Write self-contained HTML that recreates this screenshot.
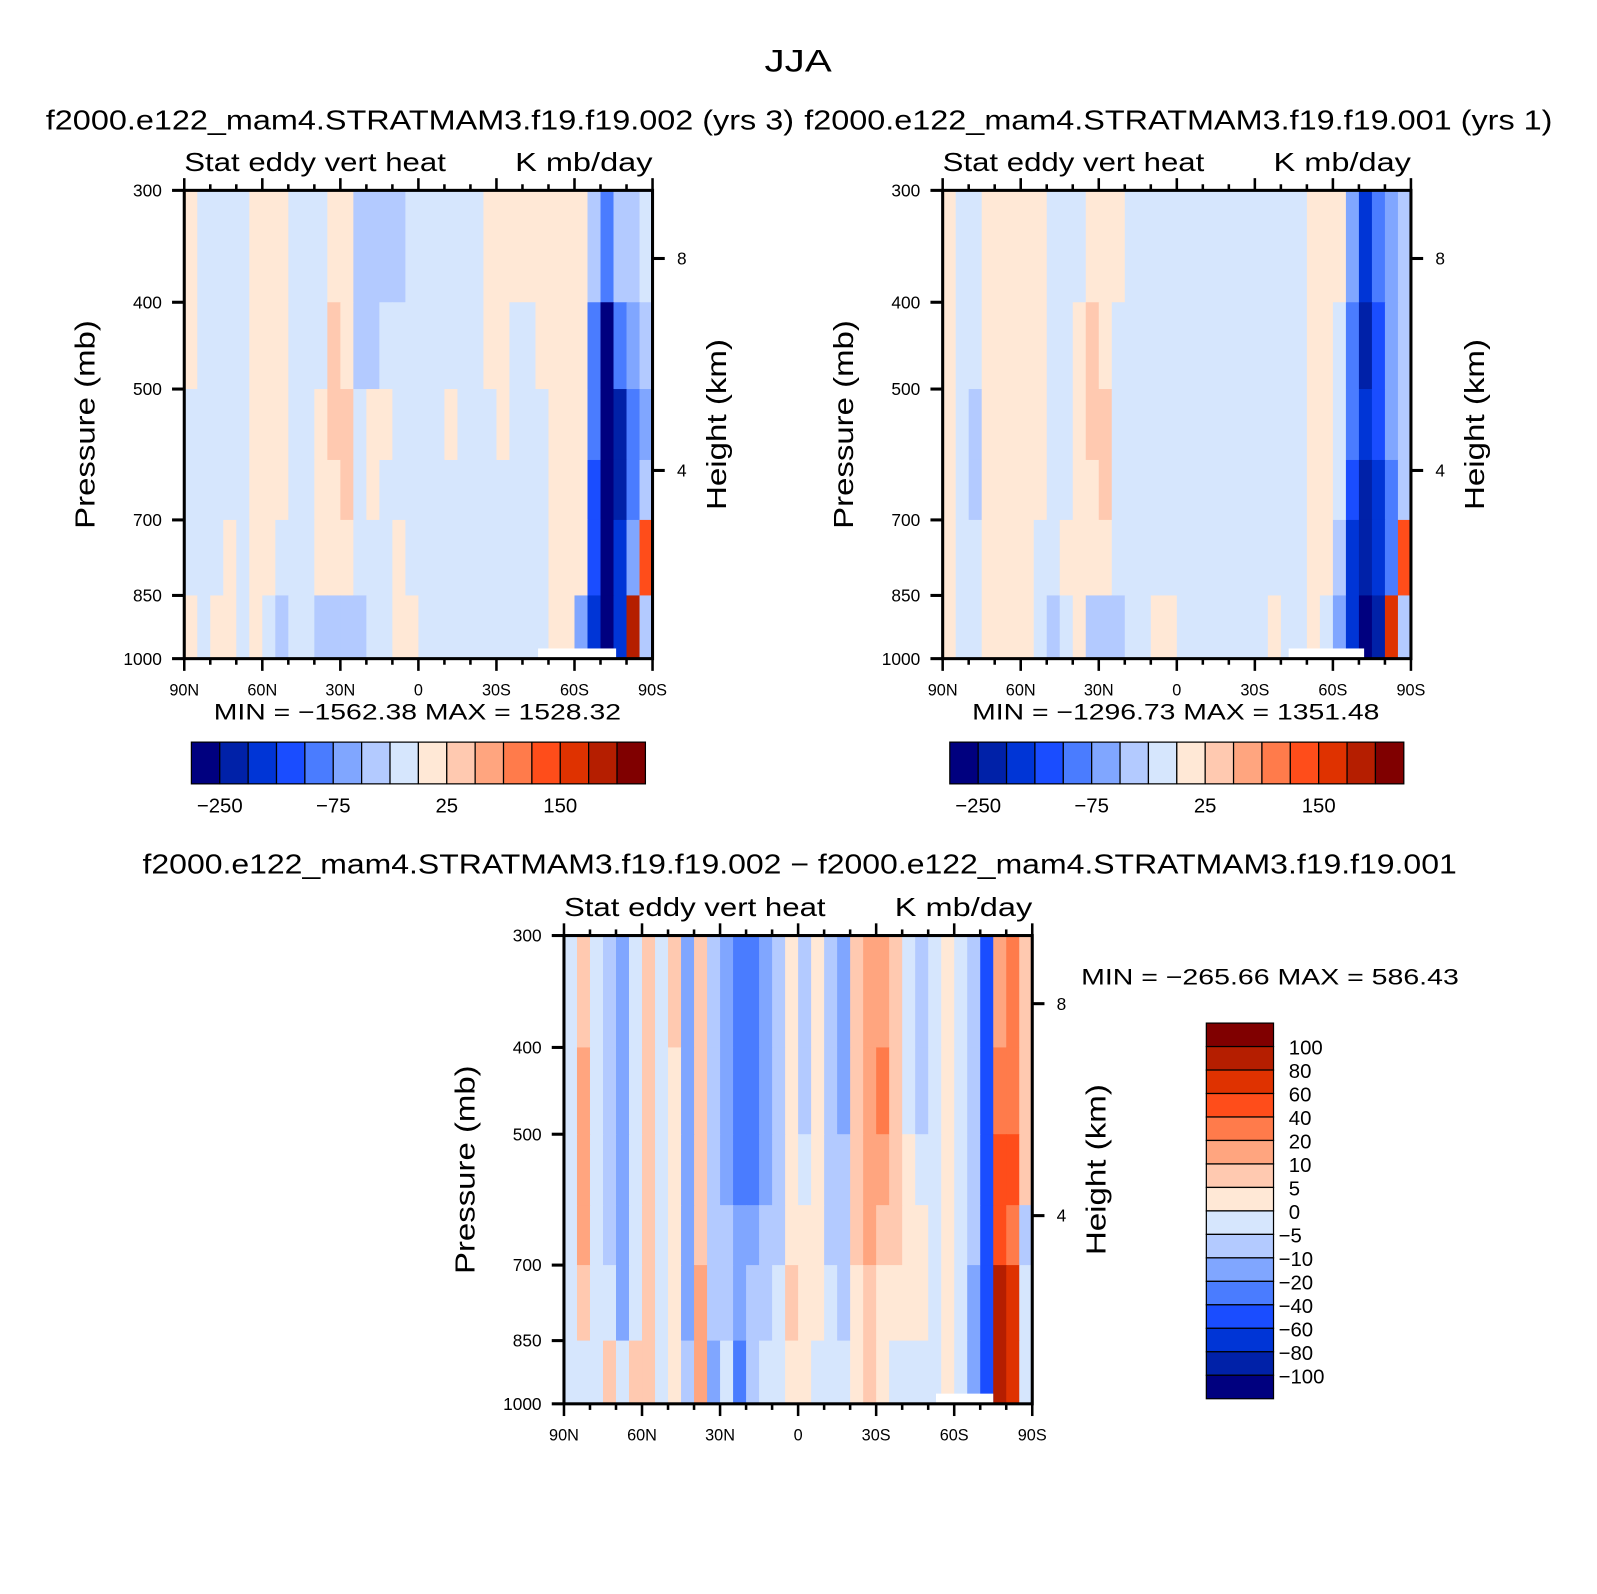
<!DOCTYPE html>
<html><head><meta charset="utf-8"><style>
html,body{margin:0;padding:0;background:#fff;overflow:hidden;}
svg{display:block;font-family:"Liberation Sans",sans-serif;}
</style></head><body>
<svg width="1597" height="1594" viewBox="0 0 1597 1594" xmlns="http://www.w3.org/2000/svg"><g id="chart" transform="scale(1.018)"></g></svg>
<script>
// ---------- data ----------
const latEdges = [90,85,80,75,70,65,60,55,50,45,40,35,30,25,20,15,10,5,0,-5,-10,-15,-20,-25,-30,-35,-40,-45,-50,-55,-60,-65,-70,-75,-80,-85,-90];
const presEdges = [300,400,500,600,700,850,1000];
const levelsAbs = [-250,-200,-150,-100,-75,-50,-25,0,25,50,75,100,150,200,250];
const levelsDiff = [-100,-80,-60,-40,-20,-10,-5,0,5,10,20,40,60,80,100];
const palette = ["#00007f","#0021a8","#0035d6","#1a4dff","#4a7cff","#80a6ff","#b3caff","#d6e6fd","#ffe8d6","#ffc9b0","#ffa57f","#ff7b4b","#ff4d1a","#df3200","#b51e00","#800000"];
const p1 = [
 [10,-10,-10,-10,-10,10,10,10,-10,-10,-10,10,10,-35,-35,-35,-35,-10,-10,-10,-10,-10,-10,10,10,10,10,10,10,10,10,-35,-100,-35,-35,-10],
 [10,-10,-10,-10,-10,10,10,10,-10,-10,-10,35,10,-35,-35,-10,-10,-10,-10,-10,-10,-10,-10,10,10,-10,-10,10,10,10,10,-100,-300,-100,-60,-35],
 [-10,-10,-10,-10,-10,10,10,10,-10,-10,10,35,35,-10,10,10,-10,-10,-10,-10,10,-10,-10,-10,10,-10,-10,-10,10,10,10,-100,-300,-250,-100,-60],
 [-10,-10,-10,-10,-10,10,10,10,-10,-10,10,10,35,-10,10,-10,-10,-10,-10,-10,-10,-10,-10,-10,-10,-10,-10,-10,10,10,10,-150,-300,-250,-80,-35],
 [-10,-10,-10,10,-10,10,10,-10,-10,-10,10,10,10,-10,-10,-10,10,-10,-10,-10,-10,-10,-10,-10,-10,-10,-10,-10,10,10,10,-150,-300,-200,-60,100],
 [10,-10,10,10,-10,10,-10,-35,-10,-10,-35,-35,-35,-35,-10,-10,10,10,-10,-10,-10,-10,-10,-10,-10,-10,-10,-10,10,10,-75,-200,-300,-200,200,-35]
];
const p2 = [
 [10,-10,-10,10,10,10,10,10,-10,-10,-10,10,10,10,-10,-10,-10,-10,-10,-10,-10,-10,-10,-10,-10,-10,-10,-10,10,10,10,-75,-200,-100,-60,-35],
 [10,-10,-10,10,10,10,10,10,-10,-10,10,35,10,-10,-10,-10,-10,-10,-10,-10,-10,-10,-10,-10,-10,-10,-10,-10,10,10,-10,-100,-250,-150,-75,-35],
 [10,-10,-35,10,10,10,10,10,-10,-10,10,35,35,-10,-10,-10,-10,-10,-10,-10,-10,-10,-10,-10,-10,-10,-10,-10,10,10,-10,-100,-200,-150,-60,-35],
 [10,-10,-35,10,10,10,10,10,-10,-10,10,10,35,-10,-10,-10,-10,-10,-10,-10,-10,-10,-10,-10,-10,-10,-10,-10,10,10,-10,-150,-250,-200,-100,-35],
 [10,-10,-10,10,10,10,10,-10,-10,10,10,10,10,-10,-10,-10,-10,-10,-10,-10,-10,-10,-10,-10,-10,-10,-10,-10,10,10,-35,-200,-250,-200,-100,100],
 [10,-10,-10,10,10,10,10,-10,-35,-10,10,-35,-35,-35,-10,-10,10,10,-10,-10,-10,-10,-10,-10,-10,10,-10,-10,10,-10,-75,-200,-300,-250,150,-35]
];
const p3 = [
 [-3,7,-3,-7,-15,-3,7,-3,7,-15,7,-7,-15,-30,-30,-15,-7,3,-7,3,-7,-15,7,15,15,7,-3,-7,-3,3,-3,-7,-60,15,20,5],
 [-3,15,-3,-7,-15,-3,7,-3,3,-15,7,-7,-15,-30,-40,-15,-7,3,-7,3,-7,-15,7,15,20,7,-3,-7,-3,3,-3,-7,-60,30,30,5],
 [-3,15,-3,-7,-15,-3,7,-3,3,-15,7,-7,-15,-30,-30,-15,-7,3,-3,3,-7,-7,7,15,15,7,3,-3,-3,3,-3,-7,-60,40,40,5],
 [-3,15,-3,-7,-15,-3,7,-3,3,-15,7,-7,-7,-15,-20,-7,-7,3,3,3,-7,-7,7,15,7,7,3,3,-3,3,-3,-7,-60,40,30,-7],
 [-3,7,-3,-3,-15,-3,7,-3,3,-15,15,-7,-7,-15,-7,-7,-3,7,3,3,-3,-7,3,7,3,3,3,3,-3,3,-3,-15,-60,80,60,-3],
 [-3,-3,-3,7,-3,7,7,-3,3,-7,15,-15,-3,-30,-7,-3,-3,3,3,-3,-3,-3,3,7,3,-3,-3,-3,-3,3,-3,-20,-60,90,60,-3]
];
const presTicks = [300,400,500,700,850,1000];
const latTicks = [90,60,30,0,-30,-60,-90];
const latTickLabels = ["90N","60N","30N","0","30S","60S","90S"];
const heightTicks = [8,4];
const absBarLabels = ["−250","−75","25","150"];
const absBarLabelIdx = [0,4,8,12];
const diffBarLabels = ["100","80","60","40","20","10","5","0","−5","−10","−20","−40","−60","−80","−100"];

// ---------- drawing ----------
const NS="http://www.w3.org/2000/svg";
const svg=document.getElementById('chart');
function el(tag,attrs,parent){const e=document.createElementNS(NS,tag);for(const k in attrs)e.setAttribute(k,attrs[k]);(parent||svg).appendChild(e);return e;}
function txt(s,attrs,parent){const t=el('text',attrs,parent);t.textContent=s;return t;}
function colorFor(v,levels){let i=0;while(i<levels.length&&v>=levels[i])i++;return palette[i];}

function panel(cfg){
  const {x0,y0,w,h,data,levels,name,below}=cfg;
  const g=el('g',{});
  
  
  const xS=lat=>x0+(90-lat)/180*w;
  const yS=p=>y0+(Math.log(p)-Math.log(300))/(Math.log(1000)-Math.log(300))*h;
  for(let r=0;r<data.length;r++){
    for(let c=0;c<data[r].length;c++){
      const xa=xS(latEdges[c]),xb=xS(latEdges[c+1]);
      const ya=yS(presEdges[r]),yb=yS(presEdges[r+1]);
      const cell=el('rect',{x:xa,y:ya,width:xb-xa+0.6,height:yb-ya+0.6,fill:colorFor(data[r][c],levels)},g);
      
      
    }
  }
  el('rect',{x:xS(below[0]),y:y0+h-10,width:xS(below[1])-xS(below[0]),height:10,fill:'#fff'},g);
  const fr=el('rect',{x:x0,y:y0,width:w,height:h,fill:'none',stroke:'#000','stroke-width':3},g);
  
  
  for(let lat=90;lat>=-90;lat-=10){
    const x=xS(lat);const major=lat%30===0;const L=major?12:6;
    el('line',{x1:x,y1:y0,x2:x,y2:y0-L,stroke:'#000','stroke-width':2.5},g);
    el('line',{x1:x,y1:y0+h,x2:x,y2:y0+h+L,stroke:'#000','stroke-width':2.5},g);
  }
  latTicks.forEach((lat,i)=>{
    const t=txt(latTickLabels[i],{x:xS(lat),y:y0+h+36,'font-size':16,'text-anchor':'middle'},g);
    
    
  });
  presTicks.forEach(p=>{
    const y=yS(p);
    el('line',{x1:x0,y1:y,x2:x0-12,y2:y,stroke:'#000','stroke-width':3},g);
    const t=txt(String(p),{x:x0-22,y:y+6,'font-size':17,'text-anchor':'end'},g);
    
    
  });
  heightTicks.forEach(km=>{
    const p=1063*Math.exp(-km/7.34);const y=yS(p);
    el('line',{x1:x0+w,y1:y,x2:x0+w+12,y2:y,stroke:'#000','stroke-width':3},g);
    const t=txt(String(km),{x:x0+w+24,y:y+6,'font-size':17},g);
    
    
  });
  const st=txt('Stat eddy vert heat',{x:x0,y:y0-19,'font-size':25,textLength:257,lengthAdjust:'spacingAndGlyphs'},g);
  
  
  const un=txt('K mb/day',{x:x0+w,y:y0-19,'font-size':25,'text-anchor':'end',textLength:135,lengthAdjust:'spacingAndGlyphs'},g);
  
  
  const yl=txt('Pressure (mb)',{x:0,y:0,'font-size':27,'text-anchor':'middle',transform:`translate(${x0-88},${y0+230}) rotate(-90)`,textLength:205,lengthAdjust:'spacingAndGlyphs'},g);
  
  
  const hl=txt('Height (km)',{x:0,y:0,'font-size':27,'text-anchor':'middle',transform:`translate(${x0+w+72},${y0+230}) rotate(-90)`,textLength:168,lengthAdjust:'spacingAndGlyphs'},g);
  
  
}

function hbar(x0,y0,w,h,name){
  const g=el('g',{});
  
  
  const bw=w/16;
  palette.forEach((c,i)=>{
    const b=el('rect',{x:x0+i*bw,y:y0,width:bw,height:h,fill:c,stroke:'#000','stroke-width':1.2},g);
    
    
  });
  absBarLabels.forEach((s,i)=>{
    const t=txt(s,{x:x0+(absBarLabelIdx[i]+1)*bw,y:y0+h+28,'font-size':20,'text-anchor':'middle'},g);
    
    
  });
}

function T(s,x,y,size,len,name,anchor){
  const t=txt(s,{x:x,y:y,'font-size':size,textLength:len,lengthAdjust:'spacingAndGlyphs','text-anchor':anchor||'start'});
  
  
}

T('JJA',751,70,31,66,'figure-title');
T('f2000.e122_mam4.STRATMAM3.f19.f19.002 (yrs 3)',45,127,27,735,'panel1-title');
T('f2000.e122_mam4.STRATMAM3.f19.f19.001 (yrs 1)',790,127,27,735,'panel2-title');
T('f2000.e122_mam4.STRATMAM3.f19.f19.002 − f2000.e122_mam4.STRATMAM3.f19.f19.001',140,858,27,1291,'diff-panel-title');

panel({x0:181,y0:187,w:460,h:460,data:p1,levels:levelsAbs,name:'panel1-contour',below:[-46,-76]});
panel({x0:926,y0:187,w:460,h:460,data:p2,levels:levelsAbs,name:'panel2-contour',below:[-43,-72]});
panel({x0:554,y0:919,w:460,h:460,data:p3,levels:levelsDiff,name:'diff-contour',below:[-53,-75]});

T('MIN = −1562.38   MAX = 1528.32',210,707,22,400,'panel1-minmax');
T('MIN = −1296.73   MAX = 1351.48',955,707,22,400,'panel2-minmax');
T('MIN = −265.66   MAX = 586.43',1062,967,22,371,'diff-minmax');

hbar(188,729,446,41,'panel1-colorbar');
hbar(933,729,446,41,'panel2-colorbar');

(function(){
  const g=el('g',{});
  
  
  const x0=1185,y0=1005,w=66,h=369,bh=h/16;
  palette.slice().reverse().forEach((c,i)=>{
    const b=el('rect',{x:x0,y:y0+i*bh,width:w,height:bh,fill:c,stroke:'#000','stroke-width':1.2},g);
    
    
  });
  diffBarLabels.forEach((s,i)=>{
    const t=txt(s,{x:x0+w+(s.startsWith('−')?5:15),y:y0+(i+1)*bh+8,'font-size':20},g);
    
    
  });
})();
</script>
</body></html>
